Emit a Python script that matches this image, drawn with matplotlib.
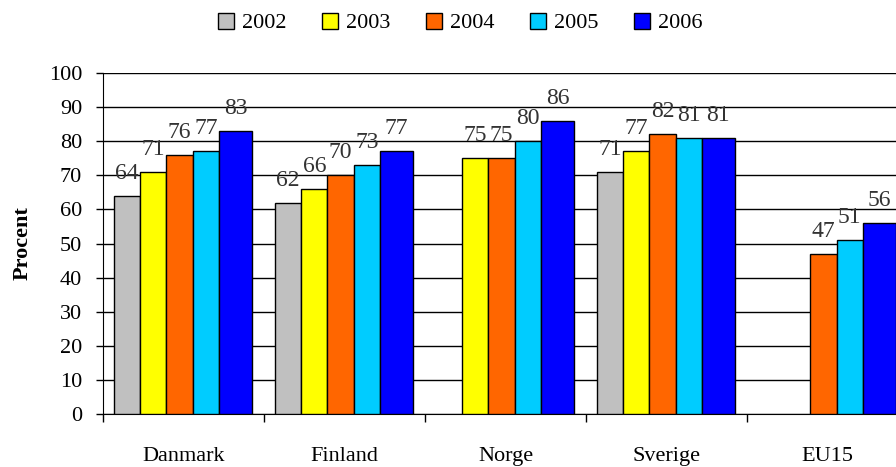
import matplotlib
matplotlib.use("Agg")
import matplotlib.pyplot as plt
import numpy as np

categories = ["Danmark", "Finland", "Norge", "Sverige", "EU15"]
years = ["2002", "2003", "2004", "2005", "2006"]
values = {
    "2002": [64, 62, None, 71, None],
    "2003": [71, 66, 75, 77, None],
    "2004": [76, 70, 75, 82, 47],
    "2005": [77, 73, 80, 81, 51],
    "2006": [83, 77, 86, 81, 56],
}
colors = ["#C0C0C0", "#FFFF00", "#FF6600", "#00CCFF", "#0000FF"]
yticks = list(range(0, 101, 10))

plt.rcParams["font.family"] = ["Liberation Serif", "DejaVu Serif"]

fig = plt.figure(figsize=(8.96, 4.67), dpi=100)
ax = fig.add_axes([103 / 896, 53 / 467, 805 / 896, 341 / 467])

widths = [0.163, 0.163, 0.163, 0.163, 0.205]
start = 0.068
x0 = np.arange(len(categories))
for i, yr in enumerate(years):
    offset = start + sum(widths[:i])
    for j, v in enumerate(values[yr]):
        if v is None:
            continue
        ax.bar(x0[j] + offset, v, width=widths[i], align="edge",
               color=colors[i], edgecolor="black", linewidth=1.0, zorder=3)
        ax.text(x0[j] + offset + widths[i] / 2, v + 5.0, str(v),
                ha="center", va="baseline", fontsize=17, color="#333333",
                zorder=4)

ax.set_xlim(0, len(categories))
ax.set_ylim(0, 100)
ax.set_yticks(yticks)
ax.tick_params(axis="y", labelsize=16, length=5, width=1, direction="out", pad=10)
ax.yaxis.grid(True, color="black", linewidth=1.0, zorder=0)
ax.set_axisbelow(True)

ax.set_xticks(x0 + 0.5)
ax.set_xticklabels(categories)
ax.set_xticks(np.arange(len(categories) + 1), minor=True)
ax.tick_params(axis="x", which="major", length=0, labelsize=16, pad=24)
ax.tick_params(axis="x", which="minor", length=6, width=1, direction="out")

for side in ["top", "right"]:
    ax.spines[side].set_visible(False)
ax.spines["left"].set_color("black")
ax.spines["bottom"].set_color("black")

ax.set_ylabel("Procent", fontsize=16, fontweight="bold", labelpad=12)

handles = [plt.Rectangle((0, 0), 1, 1, facecolor=c, edgecolor="black", linewidth=1)
           for c in colors]
fig.legend(handles, years, loc="center", bbox_to_anchor=(460 / 896, 1 - 23 / 467),
           ncol=5, frameon=False, fontsize=16, handlelength=0.72, handleheight=0.72,
           handletextpad=0.36, columnspacing=1.6, borderpad=0)

fig.savefig("out.png", dpi=100)
